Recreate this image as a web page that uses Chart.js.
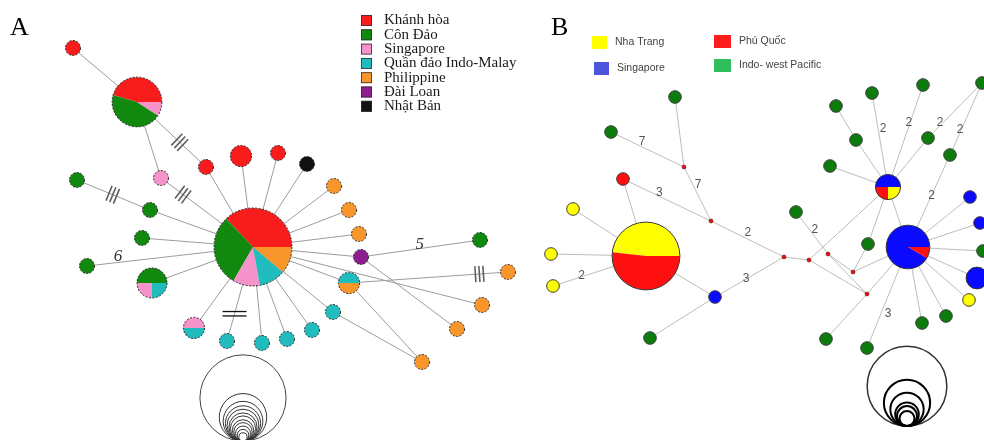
<!DOCTYPE html>
<html>
<head>
<meta charset="utf-8">
<script src="https://cdn.jsdelivr.net/npm/chart.js@4.4.1/dist/chart.umd.min.js"></script>
<style>
  html, body { margin: 0; padding: 0; background: #fff; }
  #wrap { width: 984px; height: 440px; }
</style>
</head>
<body>
<div id="wrap"><canvas id="net" width="984" height="440"></canvas></div>
<script>
// ---------- Panel A ----------
const regionsA = ['Khánh hòa', 'Côn Đảo', 'Singapore', 'Quần đảo Indo-Malay', 'Philippine', 'Đài Loan', 'Nhật Bản'];
const colorsA = ['#f81c1c', '#11890f', '#f593ca', '#21bcbe', '#f8962c', '#8d1e8e', '#111111'];

// haplotype positions in layout units, and composition as [region, count]
const nodeXA = [137, 73, 161, 206, 241, 278, 307, 334, 349, 359, 361, 349, 333, 312, 287, 262, 227, 194, 152, 142, 87, 150, 77, 253, 480, 508, 482, 457, 422];
const nodeYA = [102, 48, 178, 167, 156, 153, 164, 186, 210, 234, 257, 283, 312, 330, 339, 343, 341, 328, 283, 238, 266, 210, 180, 247, 240, 272, 305, 329, 362];
const compA = [
  [[0, 5], [1, 5], [2, 1]],
  [[0, 1]], [[2, 1]], [[0, 1]], [[0, 2]], [[0, 1]], [[6, 1]],
  [[4, 1]], [[4, 1]], [[4, 1]], [[5, 1]], [[3, 1], [4, 1]],
  [[3, 1]], [[3, 1]], [[3, 1]], [[3, 1]], [[3, 1]],
  [[2, 1], [3, 1]], [[1, 2], [2, 1], [3, 1]],
  [[1, 1]], [[1, 1]], [[1, 1]], [[1, 1]],
  [[0, 10], [1, 8], [2, 3], [3, 3], [4, 3]],
  [[1, 1]], [[4, 1]], [[4, 1]], [[4, 1]], [[4, 1]]
];
// [from, to, mutation steps]
const edgesA = [
  [23, 3, 1], [23, 4, 1], [23, 5, 1], [23, 6, 1], [23, 7, 1], [23, 8, 1], [23, 9, 1],
  [23, 10, 1], [23, 11, 1], [23, 12, 1], [23, 13, 1], [23, 14, 1], [23, 15, 1], [23, 16, 2],
  [23, 17, 1], [23, 18, 1], [23, 19, 1], [20, 23, 6], [23, 21, 1], [2, 23, 3], [23, 26, 1],
  [0, 1, 1], [0, 2, 1], [0, 3, 3], [22, 21, 3], [10, 24, 5], [10, 27, 1],
  [11, 25, 3], [11, 28, 1], [12, 28, 1]
];
const sizeKeyA = [33, 10, 7, 5.5, 4.5, 3.5, 2.8, 2, 1.5, 1, 0.6, 0.3];

// ---------- Panel B ----------
const regionsB = ['Nha Trang', 'Singapore', 'Phú Quốc', 'Indo- west Pacific'];
const colorsB = ['#ffff00', '#0a0aff', '#ff1010', '#0c7d0c'];
const legendColorsB = ['#ffff00', '#4c55dc', '#ff1c1c', '#2fbd5d'];

const nodeXB = [646, 573, 551, 553, 623, 611, 675, 715, 650, 684, 711, 784, 809, 828, 853, 867, 796, 868, 826, 867, 888, 908, 836, 856, 872, 923, 928, 982, 950, 830, 970, 980, 983, 977, 969, 946, 922];
const nodeYB = [256, 209, 254, 286, 179, 132, 97, 297, 338, 167, 221, 257, 260, 254, 272, 294, 212, 244, 339, 348, 187, 247, 106, 140, 93, 85, 138, 83, 155, 166, 197, 223, 251, 278, 300, 316, 323];
const compB = [
  [[0, 14], [2, 15]],
  [[0, 1]], [[0, 1]], [[0, 1]], [[2, 1]], [[3, 1]], [[3, 1]], [[1, 1]], [[3, 1]],
  [], [], [], [], [], [], [],
  [[3, 1]], [[3, 1]], [[3, 1]], [[3, 1]],
  [[1, 2], [2, 1], [0, 1]],
  [[1, 11], [2, 1]],
  [[3, 1]], [[3, 1]], [[3, 1]], [[3, 1]], [[3, 1]], [[3, 1]], [[3, 1]], [[3, 1]],
  [[1, 1]], [[1, 1]], [[3, 1]], [[1, 3]], [[0, 1]], [[3, 1]], [[3, 1]]
];
const edgesB = [
  [6, 9, 1], [5, 9, 7], [9, 10, 7], [4, 10, 3], [4, 0, 1], [1, 0, 1], [2, 0, 1], [3, 0, 2],
  [0, 7, 1], [7, 8, 1], [7, 11, 3], [10, 11, 2], [11, 12, 1], [12, 20, 1], [12, 15, 1],
  [16, 13, 2], [13, 14, 1], [13, 15, 1], [14, 17, 1], [14, 21, 1], [15, 21, 1], [15, 18, 1],
  [17, 20, 1], [20, 23, 1], [23, 22, 1], [24, 20, 2], [25, 20, 2], [20, 26, 1], [26, 27, 2],
  [27, 28, 2], [28, 21, 2], [20, 29, 1], [20, 21, 1], [21, 30, 1], [21, 31, 1], [21, 32, 1],
  [21, 33, 1], [21, 34, 1], [21, 35, 1], [21, 36, 1], [21, 19, 3]
];
const sizeKeyB = [40, 13.5, 7, 3.5, 2.5, 1.4];

// where the step marks sit on an edge: [fraction along edge, offset off the line]
const markAtA = { '23-16': [0.71, 0], '2-23': [0.24, 0], '0-3': [0.62, 0], '22-21': [0.49, 0], '11-25': [0.82, 0], '20-23': [0.19, 5.4], '10-24': [0.5, 4.5] };
const markAtB = {
  '5-9': [0.4, 4.4], '9-10': [0.37, 4.5], '4-10': [0.4, 2.9], '3-0': [0.31, 1], '7-11': [0.45, 0],
  '10-11': [0.47, 5.6], '16-13': [0.49, 4], '24-20': [0.39, 4.8], '25-20': [0.375, -1],
  '26-27': [0.25, 2], '27-28': [0.66, -1], '28-21': [0.44, 0], '21-19': [0.64, 6.7]
};

const UNIT_A = 7.5;
const UNIT_B = 6.3;

function edgeSets(xs, ys, edges, color) {
  return edges.map(([a, b]) => ({
    data: [{ x: xs[a], y: ys[a] }, { x: xs[b], y: ys[b] }],
    showLine: true, borderColor: color, borderWidth: 1, pointRadius: 0, order: 2
  }));
}

function nodeSet(xs, ys) {
  return { data: xs.map((x, i) => ({ x, y: ys[i] })), pointRadius: 0, showLine: false, order: 1 };
}

const setsA = edgeSets(nodeXA, nodeYA, edgesA, '#9c9c9c');
const setsB = edgeSets(nodeXB, nodeYB, edgesB, '#bdbdbd');
const NODES_A = setsA.length + setsB.length;
const NODES_B = NODES_A + 1;

function total(comp) {
  return comp.reduce((s, p) => s + p[1], 0);
}

function drawPie(c, x, y, r, comp, colors, outline, dash) {
  const n = total(comp);
  let a = 0;
  comp.forEach(([k, v]) => {
    const sweep = v / n * Math.PI * 2;
    c.beginPath();
    c.moveTo(x, y);
    c.arc(x, y, r, -a, -a - sweep, true);
    c.closePath();
    c.fillStyle = colors[k];
    c.fill();
    a += sweep;
  });
  c.beginPath();
  c.arc(x, y, r, 0, Math.PI * 2);
  c.setLineDash(dash);
  c.strokeStyle = outline;
  c.lineWidth = 1;
  c.stroke();
  c.setLineDash([]);
}

function drawMarks(c, pts, edges, markAt, panel) {
  edges.forEach(([a, b, steps]) => {
    const place = markAt[a + '-' + b];
    if (!place) return;
    const p = pts[a], q = pts[b];
    const dx = q.x - p.x, dy = q.y - p.y, len = Math.hypot(dx, dy);
    const ux = dx / len, uy = dy / len, nx = uy, ny = -ux;
    const mx = p.x + dx * place[0], my = p.y + dy * place[0];
    if (panel === 'A' && steps === 2) {
      c.strokeStyle = '#111';
      c.lineWidth = 1.3;
      [-2.2, 2.2].forEach(o => {
        c.beginPath();
        c.moveTo(mx - 12, my + o);
        c.lineTo(mx + 12, my + o);
        c.stroke();
      });
    } else if (panel === 'A' && steps === 3) {
      c.strokeStyle = '#5e5e5e';
      c.lineWidth = 1.6;
      [-4, 0, 4].forEach(o => {
        const cx = mx + ux * o, cy = my + uy * o;
        c.beginPath();
        c.moveTo(cx - nx * 8, cy - ny * 8);
        c.lineTo(cx + nx * 8, cy + ny * 8);
        c.stroke();
      });
    } else {
      c.fillStyle = panel === 'A' ? '#333' : '#555';
      c.font = panel === 'A' ? 'italic 17px "Liberation Serif", serif' : '12px "Liberation Sans", Arial, sans-serif';
      c.textAlign = 'center';
      c.textBaseline = 'middle';
      c.fillText(String(steps), mx + nx * place[1], my + ny * place[1]);
    }
  });
}

function drawSizeKey(c, sx, sy, cx, bottom, counts, unit, outer, inner, widthOuter, widthInner) {
  const px = sx.getPixelForValue(cx), pb = sy.getPixelForValue(bottom);
  counts.forEach((n, i) => {
    const r = unit * Math.sqrt(n);
    c.beginPath();
    c.arc(px, pb - r, r, 0, Math.PI * 2);
    c.strokeStyle = i === 0 ? outer : inner;
    c.lineWidth = i === 0 ? widthOuter : widthInner;
    c.stroke();
  });
}

const networkPlugin = {
  id: 'network',
  afterDatasetsDraw(chart) {
    const c = chart.ctx;
    const sx = chart.scales.x, sy = chart.scales.y;
    const ptsA = chart.getDatasetMeta(NODES_A).data;
    const ptsB = chart.getDatasetMeta(NODES_B).data;
    c.save();

    drawMarks(c, ptsA, edgesA.filter(e => e[2] <= 3), markAtA, 'A');

    ptsA.forEach((p, i) => {
      drawPie(c, p.x, p.y, UNIT_A * Math.sqrt(total(compA[i])), compA[i], colorsA, '#2a2a2a', [2, 1.5]);
    });
    ptsB.forEach((p, i) => {
      if (!compB[i].length) {
        c.beginPath();
        c.arc(p.x, p.y, 2, 0, Math.PI * 2);
        c.fillStyle = '#e01010';
        c.fill();
        c.lineWidth = 0.6;
        c.strokeStyle = '#7a1010';
        c.stroke();
        return;
      }
      drawPie(c, p.x, p.y, UNIT_B * Math.sqrt(total(compB[i])), compB[i], colorsB, '#3a3a3a', []);
    });

    drawMarks(c, ptsA, edgesA.filter(e => e[2] > 3), markAtA, 'A');
    drawMarks(c, ptsB, edgesB, markAtB, 'B');

    // panel letters
    c.fillStyle = '#000';
    c.font = '26px "Liberation Serif", serif';
    c.textAlign = 'left';
    c.textBaseline = 'alphabetic';
    c.fillText('A', sx.getPixelForValue(10), sy.getPixelForValue(35));
    c.fillText('B', sx.getPixelForValue(551), sy.getPixelForValue(35));

    // legend A
    c.font = '15px "Liberation Serif", serif';
    c.textBaseline = 'middle';
    regionsA.forEach((name, i) => {
      const x = sx.getPixelForValue(361), y = sy.getPixelForValue(15 + i * 14.3);
      c.fillStyle = colorsA[i];
      c.fillRect(x, y, 11, 11);
      c.strokeStyle = '#333';
      c.lineWidth = 0.8;
      c.strokeRect(x + 0.5, y + 0.5, 10, 10);
      c.fillStyle = '#1a1a1a';
      c.fillText(name, x + 23, y + 5.5);
    });

    // legend B
    c.font = '10.5px "Liberation Sans", Arial, sans-serif';
    const legPos = [[592, 36, 15], [594, 62, 15], [714, 35, 17], [714, 59, 17]];
    regionsB.forEach((name, i) => {
      const x = sx.getPixelForValue(legPos[i][0]), y = sy.getPixelForValue(legPos[i][1]);
      c.fillStyle = legendColorsB[i];
      c.fillRect(x, y, legPos[i][2], 13);
      c.fillStyle = '#444';
      c.fillText(name, x + legPos[i][2] + 8, y + 6.5);
    });

    drawSizeKey(c, sx, sy, 243, 441, sizeKeyA, UNIT_A, '#444', '#333', 1, 1);
    drawSizeKey(c, sx, sy, 907, 426, sizeKeyB, UNIT_B, '#333', '#000', 1.5, 2);
    c.restore();
  }
};

new Chart(document.getElementById('net'), {
  type: 'scatter',
  data: { datasets: [...setsA, ...setsB, nodeSet(nodeXA, nodeYA), nodeSet(nodeXB, nodeYB)] },
  options: {
    responsive: false,
    animation: false,
    events: [],
    layout: { padding: 0 },
    plugins: { legend: { display: false }, tooltip: { enabled: false } },
    scales: {
      x: { type: 'linear', min: 0, max: 984, display: false },
      y: { type: 'linear', min: 0, max: 440, reverse: true, display: false }
    }
  },
  plugins: [networkPlugin]
});
</script>
</body>
</html>
